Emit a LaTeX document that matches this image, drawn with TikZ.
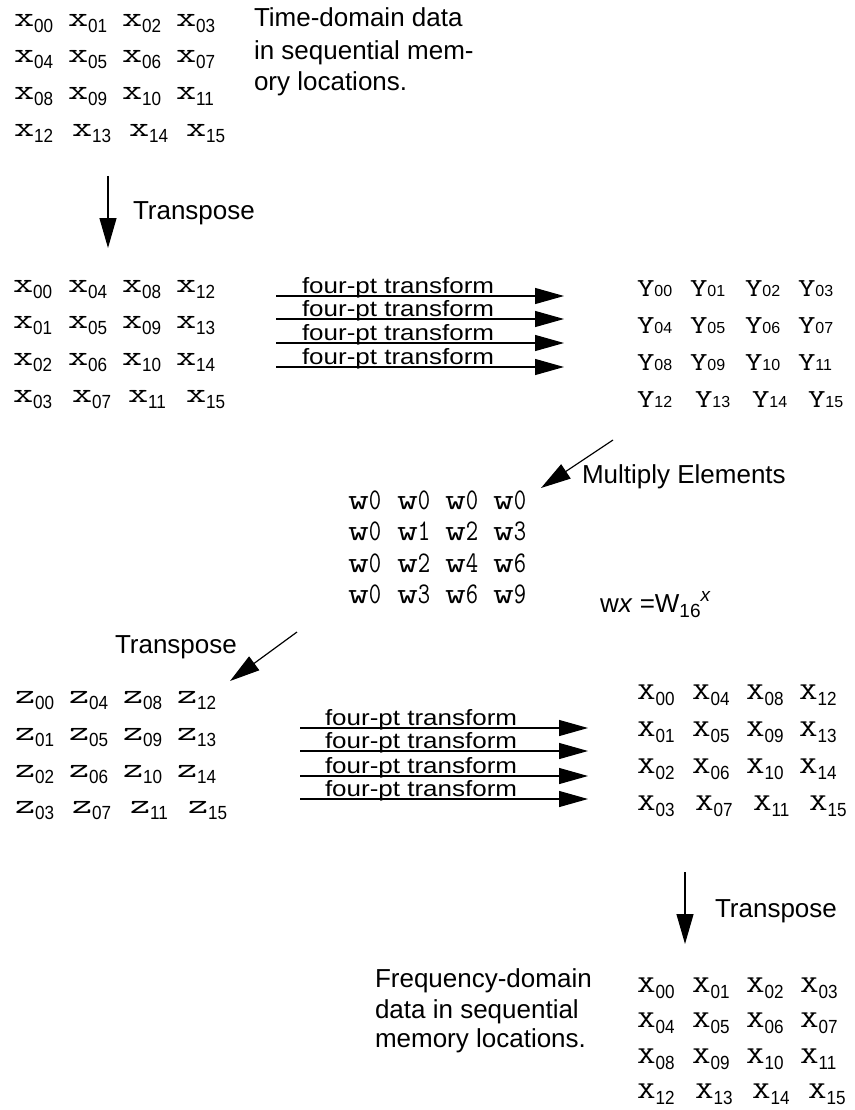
\documentclass[tikz,border=0pt]{standalone}
\usepackage{fontspec}
\usepackage{graphicx}
\setmainfont{Liberation Sans}
\usetikzlibrary{arrows.meta}
\newcommand\twodig[1]{\ifnum#1<10 0\fi#1}
\newcommand\entl[2]{{\fontsize{28}{28}\selectfont\ttfamily\scalebox{1.4}[1]{#1}}\raisebox{-6pt}{\fontsize{19}{19}\selectfont\scalebox{0.9}[1]{#2}}}
\newcommand\entu[2]{{\fontsize{24}{24}\selectfont\ttfamily\scalebox{1.5}[1]{#1}}\raisebox{-6pt}{\fontsize{19}{19}\selectfont\scalebox{0.9}[1]{#2}}}
\newcommand\enty[2]{{\fontsize{26}{26}\selectfont\ttfamily\scalebox{1.3}[1]{#1}}{\fontsize{16}{16}\selectfont #2}}
\newcommand\entw[1]{{\fontsize{30}{30}\selectfont\ttfamily\scalebox{1.35}[1]{w}\scalebox{0.8}[1]{#1}}}
\begin{document}
\begin{tikzpicture}[x=1pt,y=-1pt,
  ent/.style={anchor=base west,inner sep=0pt,outer sep=0pt},
  lbl/.style={anchor=base west,inner sep=0pt,outer sep=0pt,font=\fontsize{26}{31}\selectfont},
  flbl/.style={anchor=base west,inner sep=0pt,outer sep=0pt,font=\fontsize{26}{31}\selectfont},
  arr/.style={line width=1.2pt,-{Triangle[length=29pt,width=16pt]}},
  varr/.style={line width=1.2pt,-{Triangle[length=30pt,width=17pt]}}]
\useasboundingbox (0,0) rectangle (854,1110);

% block A: time-domain data
\foreach \r/\y/\xa/\xb/\xc/\xd in {0/27/14/68/122/176,1/63/14/68/122/176,2/100/14/68/122/176,3/137/14/72/129/186}{
  \foreach \c/\x in {0/\xa,1/\xb,2/\xc,3/\xd}{
    \pgfmathtruncatemacro\k{4*\r+\c}
    \node[ent] (a-\r-\c) at (\x,\y) {\entl{x}{\twodig{\k}}};
  }}
\node[lbl] (t1) at (254,27) {Time-domain data};
\node[lbl] (t2) at (254,60) {in sequential mem-};
\node[lbl] (t3) at (254,91) {ory locations.};

% transpose 1
\coordinate (tr1s) at (108,176);
\coordinate (tr1e) at (108,248);
\draw[varr] (tr1s) -- (tr1e);
\node[lbl] (tr1) at (133,219) {Transpose};

% block B: transposed x
\foreach \r/\y/\xa/\xb/\xc/\xd in {0/292/13/68/122/176,1/328/13/68/122/176,2/365/13/68/122/176,3/402/13/72/128/186}{
  \foreach \c/\x in {0/\xa,1/\xb,2/\xc,3/\xd}{
    \pgfmathtruncatemacro\k{\r+4*\c}
    \node[ent] (b-\r-\c) at (\x,\y) {\entl{x}{\twodig{\k}}};
  }}

% four-point transforms, first pass
\foreach \i/\y in {1/296,2/319,3/343,4/367}{
  \coordinate (fa\i s) at (276,\y);
  \coordinate (fa\i e) at (564,\y);
  \draw[arr] (fa\i s) -- (fa\i e);
  \node[flbl] (fal\i) at (302,\y-2.5) {\scalebox{1}[0.85]{four-pt transform}};
}

% block Y
\foreach \r/\y/\xa/\xb/\xc/\xd in {0/296/637/690/745/798,1/333/637/690/745/798,2/370/637/690/745/798,3/407/637/695/752/808}{
  \foreach \c/\x in {0/\xa,1/\xb,2/\xc,3/\xd}{
    \pgfmathtruncatemacro\k{4*\r+\c}
    \node[ent] (y-\r-\c) at (\x,\y) {\enty{Y}{\twodig{\k}}};
  }}

% multiply elements
\coordinate (m1s) at (613,440);
\coordinate (m1e) at (541,488);
\draw[varr] (m1s) -- (m1e);
\node[lbl] (mul) at (582,483) {Multiply Elements};

% block W
\foreach \r/\y in {0/509,1/540,2/572,3/603}{
  \foreach \c/\x in {0/348,1/397,2/445,3/493}{
    \pgfmathtruncatemacro\k{\r*\c}
    \node[ent] (w-\r-\c) at (\x,\y) {\entw{\k}};
  }}
\node[lbl] (wx) at (600,612) {w\textit{x} =W\raisebox{-5pt}{\fontsize{19}{19}\selectfont 16}\raisebox{11pt}{\fontsize{19}{19}\selectfont\textit{x}}};

% transpose 2
\coordinate (tr2s) at (297,632);
\coordinate (tr2e) at (230,681);
\draw[varr] (tr2s) -- (tr2e);
\node[lbl] (tr2) at (115,653) {Transpose};

% block Z
\foreach \r/\y/\xa/\xb/\xc/\xd in {0/703/15/69/123/177,1/740/15/69/123/177,2/777/15/69/123/177,3/813/15/72/130/188}{
  \foreach \c/\x in {0/\xa,1/\xb,2/\xc,3/\xd}{
    \pgfmathtruncatemacro\k{\r+4*\c}
    \node[ent] (z-\r-\c) at (\x,\y) {\entl{z}{\twodig{\k}}};
  }}

% four-point transforms, second pass
\foreach \i/\y in {1/728,2/751,3/776,4/799}{
  \coordinate (fb\i s) at (300,\y);
  \coordinate (fb\i e) at (588,\y);
  \draw[arr] (fb\i s) -- (fb\i e);
  \node[flbl] (fbl\i) at (325,\y-2.5) {\scalebox{1}[0.85]{four-pt transform}};
}

% block X (transposed)
\foreach \r/\y/\xa/\xb/\xc/\xd in {0/699/637/692/746/799,1/736/637/692/746/799,2/773/637/692/746/799,3/810/637/695/753/809}{
  \foreach \c/\x in {0/\xa,1/\xb,2/\xc,3/\xd}{
    \pgfmathtruncatemacro\k{\r+4*\c}
    \node[ent] (u-\r-\c) at (\x,\y) {\entu{X}{\twodig{\k}}};
  }}

% transpose 3
\coordinate (tr3s) at (685,872);
\coordinate (tr3e) at (685,944);
\draw[varr] (tr3s) -- (tr3e);
\node[lbl] (tr3) at (715,917) {Transpose};

% frequency-domain text
\node[lbl] (f1) at (375,987) {Frequency-domain};
\node[lbl] (f2) at (375,1018) {data in sequential};
\node[lbl] (f3) at (375,1047) {memory locations.};

% block X final
\foreach \r/\y/\xa/\xb/\xc/\xd in {0/992/637/692/746/800,1/1027/637/692/746/800,2/1063/637/692/746/800,3/1098/637/695/752/808}{
  \foreach \c/\x in {0/\xa,1/\xb,2/\xc,3/\xd}{
    \pgfmathtruncatemacro\k{4*\r+\c}
    \node[ent] (v-\r-\c) at (\x,\y) {\entu{X}{\twodig{\k}}};
  }}
\end{tikzpicture}
\end{document}
